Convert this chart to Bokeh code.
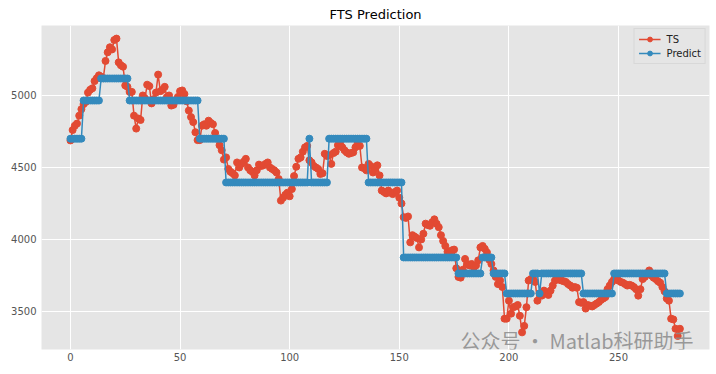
from bokeh.plotting import figure
from bokeh.models import Range1d, FixedTicker, Label, Legend, LegendItem
from bokeh.embed import file_html
from bokeh.resources import INLINE

ts = [4688, 4760, 4790, 4805, 4860, 4905, 4940, 4955, 5020, 5040,
      5050, 5100, 5120, 5140, 5130, 5120, 5240, 5300, 5335, 5320,
      5385, 5395, 5230, 5210, 5200, 5070, 5060, 5025, 5025, 4860,
      4770, 4840, 4830, 5000, 4980, 5075, 5065, 4945, 4975, 5020,
      5145, 5030, 5040, 5060, 4990, 5000, 4930, 4935, 4965, 4990,
      5030, 5035, 5010, 4960, 4895, 4850, 4815, 4745, 4690, 4690,
      4790, 4800, 4790, 4825, 4810, 4800, 4740, 4700, 4655, 4620,
      4555, 4570, 4490, 4470, 4460, 4445, 4535, 4500, 4525, 4540,
      4560, 4500, 4480, 4470, 4445, 4480, 4520, 4510, 4515, 4525,
      4535, 4500, 4490, 4480, 4465, 4420, 4270, 4290, 4310, 4325,
      4300, 4350, 4440, 4505, 4560, 4570, 4610, 4640, 4650, 4550,
      4535, 4510, 4500, 4490, 4455, 4460, 4595, 4580, 4585, 4525,
      4600, 4610, 4655, 4665, 4640, 4620, 4605, 4595, 4600, 4605,
      4640, 4665, 4650, 4500, 4495, 4480, 4525, 4510, 4465, 4490,
      4515, 4445, 4340, 4330, 4320, 4340, 4325, 4315, 4330, 4340,
      4290, 4250, 4155, 4150, 4160, 3980, 4030, 4020, 4010, 3945,
      4000, 4040, 4110, 4100, 4095, 4120, 4140, 4110, 4085, 4030,
      3990, 3955, 3915, 3910, 3925, 3930, 3800, 3740, 3735, 3790,
      3865, 3830, 3820, 3830, 3805, 3820, 3855, 3945, 3955, 3935,
      3910, 3860, 3830, 3785, 3740, 3690, 3715, 3670, 3450, 3450,
      3575, 3485, 3530, 3535, 3545, 3470, 3355, 3400, 3530, 3715,
      3725, 3730, 3705, 3575, 3625, 3610, 3645, 3625, 3615, 3645,
      3680, 3715, 3730, 3720, 3715, 3710, 3705, 3690, 3680, 3665,
      3670, 3665, 3565, 3560, 3565, 3520, 3545, 3540, 3535, 3545,
      3555, 3565, 3580, 3590, 3600, 3655, 3680, 3705, 3725, 3720,
      3715, 3705, 3700, 3690, 3680, 3685, 3680, 3670, 3655, 3610,
      3655, 3725, 3740, 3765, 3785, 3750, 3735, 3725, 3710, 3700,
      3670, 3640, 3590, 3575, 3450, 3445, 3380, 3330, 3380]

# Predict: piecewise-constant levels and the number of points at each level
predict_levels = [4700, 4965, 5118, 4965, 4700, 4396, 4700, 4396, 4700, 4396,
                  3875, 3764, 3875, 3764, 3625, 3764, 3625, 3764, 3625, 3764, 3625]
predict_counts = [6, 8, 13, 32, 12, 38, 1, 8, 18, 16,
                  25, 11, 5, 6, 12, 3, 1, 19, 14, 24, 7]

predict = []
for lv, c in zip(predict_levels, predict_counts):
    predict += [lv] * c
x = list(range(len(ts)))
predict = predict[:len(ts)]
px = list(range(len(predict)))

x_ticks = [0, 50, 100, 150, 200, 250]
y_ticks = [3500, 4000, 4500, 5000]

RED = "#E24A33"
BLUE = "#348ABD"
FONT = "DejaVu Sans"

p = figure(width=712, height=366, output_backend="svg", toolbar_location=None,
           x_range=Range1d(-13.2, 291.5), y_range=Range1d(3236, 5486),
           min_border_left=41, min_border_right=3, min_border_bottom=17,
           min_border_top=25, title="FTS Prediction")
p.title.align = "center"
p.title.text_font = FONT
p.title.text_font_size = "13px"
p.title.text_font_style = "normal"
p.title.text_color = "#000000"
p.title.standoff = 7

p.background_fill_color = "#E5E5E5"
p.border_fill_color = "white"
p.outline_line_color = None

for ax in (p.xaxis, p.yaxis):
    ax.axis_line_color = None
    ax.major_tick_line_color = None
    ax.minor_tick_line_color = None
    ax.major_tick_out = 0
    ax.major_tick_in = 0
    ax.minor_tick_out = 0
    ax.minor_tick_in = 0
    ax.major_label_text_font = FONT
    ax.major_label_text_font_size = "10px"
    ax.major_label_text_color = "#555555"
p.xaxis.ticker = FixedTicker(ticks=x_ticks)
p.yaxis.ticker = FixedTicker(ticks=y_ticks)
p.xaxis.major_label_standoff = 3
p.yaxis.major_label_standoff = 5

p.xgrid.ticker = FixedTicker(ticks=x_ticks)
p.ygrid.ticker = FixedTicker(ticks=y_ticks)
p.grid.grid_line_color = "white"
p.grid.grid_line_width = 1

r1l = p.line(x, ts, line_color=RED, line_width=1.5)
r1m = p.scatter(x, ts, size=7, fill_color=RED, line_color=RED)
r2l = p.line(px, predict, line_color=BLUE, line_width=1.5)
r2m = p.scatter(px, predict, size=7, fill_color=BLUE, line_color=BLUE)

legend = Legend(items=[LegendItem(label="TS", renderers=[r1l, r1m]),
                       LegendItem(label="Predict", renderers=[r2l, r2m])],
                location="top_right")
legend.background_fill_color = "#E5E5E5"
legend.background_fill_alpha = 0.8
legend.border_line_color = "#CCCCCC"
legend.label_text_font = FONT
legend.label_text_font_size = "10px"
legend.label_text_color = "#222222"
legend.glyph_width = 22
legend.glyph_height = 12
legend.label_height = 12
legend.spacing = 2
legend.padding = 4
legend.margin = 3
legend.label_standoff = 6
p.add_layout(legend)

wm = Label(x=419, y=9, x_units="screen", y_units="screen",
           text="公众号 · Matlab科研助手", text_font="Noto Sans CJK SC",
           text_font_size="20px", text_color="#8A8A8A", text_alpha=0.85,
           text_baseline="middle")
p.add_layout(wm)

open("out.html", "w").write(file_html(p, INLINE))
